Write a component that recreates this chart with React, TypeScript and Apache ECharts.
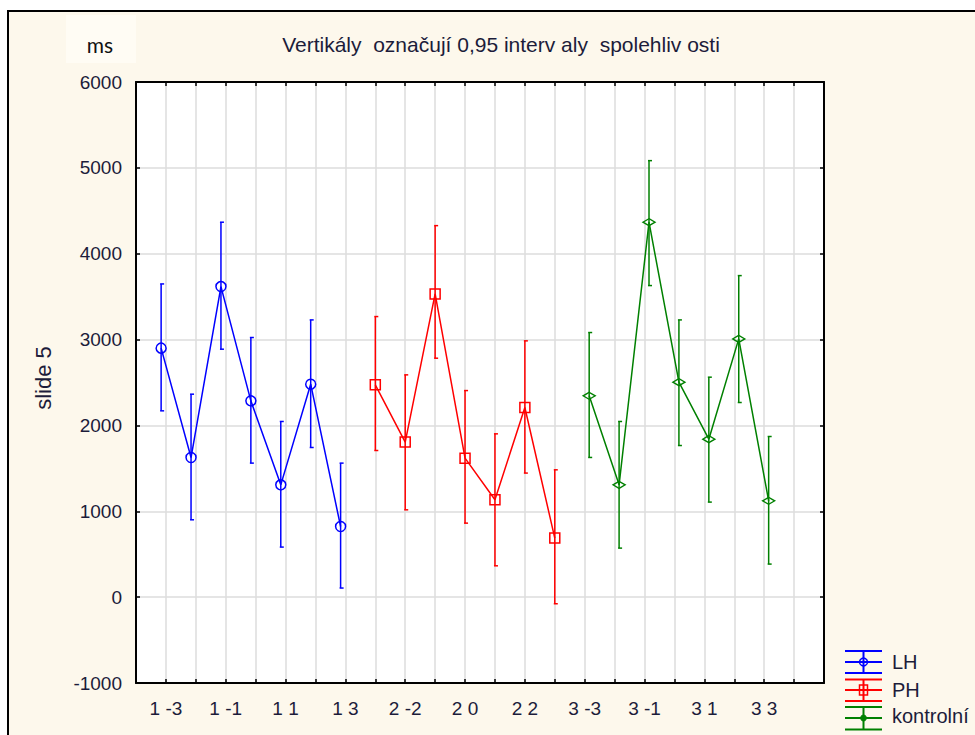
import React, { useEffect, useRef } from "react";
import * as echarts from "echarts";

// Category labels along the x axis (group + level), positions 1..21
const categories = [
  "1 -3", "1 -2", "1 -1", "1 0", "1 1", "1 2", "1 3",
  "2 -3", "2 -2", "2 -1", "2 0", "2 1", "2 2", "2 3",
  "3 -3", "3 -2", "3 -1", "3 0", "3 1", "3 2", "3 3",
];

// Means and 0.95 confidence limits (ms)
const lhMean = [2900, 1626, 3617, 2286, 1308, 2480, 823];
const lhLow = [2170, 901, 2888, 1561, 583, 1743, 106];
const lhHigh = [3648, 2364, 4367, 3024, 2046, 3229, 1561];

const phMean = [2473, 1806, 3532, 1619, 1134, 2209, 688];
const phLow = [1708, 1017, 2783, 862, 365, 1445, -77];
const phHigh = [3268, 2589, 4327, 2406, 1902, 2985, 1483];

const kMean = [2345, 1308, 4367, 2504, 1840, 3008, 1122];
const kLow = [1627, 571, 3629, 1766, 1107, 2267, 385];
const kHigh = [3082, 2046, 5084, 3229, 2562, 3745, 1871];

const yTicks = [-1000, 0, 1000, 2000, 3000, 4000, 5000, 6000];

const BLUE = "#0000ff";
const RED = "#ff0000";
const GREEN = "#008000";
const TEXT = "#1c1c3a";
const FONT = "'Liberation Sans', Arial, sans-serif";

type Group = {
  name: string;
  start: number; // index of first category
  shift: number; // horizontal offset of the series in axis units
  mean: number[];
  low: number[];
  high: number[];
  color: string;
  symbol: string;
  symbolSize: number | number[];
};

const groups: Group[] = [
  { name: "LH", start: 0, shift: -0.16, mean: lhMean, low: lhLow, high: lhHigh, color: BLUE, symbol: "circle", symbolSize: 10 },
  { name: "PH", start: 7, shift: 0, mean: phMean, low: phLow, high: phHigh, color: RED, symbol: "rect", symbolSize: 10 },
  { name: "kontrolní", start: 14, shift: 0.15, mean: kMean, low: kLow, high: kHigh, color: GREEN, symbol: "diamond", symbolSize: [12, 7] },
];

function buildSeries() {
  const series: any[] = [];
  groups.forEach((g) => {
    const xs = g.mean.map((_, i) => g.start + i + 1 + g.shift);
    series.push({
      type: "custom",
      name: g.name + " CI",
      z: 2,
      silent: true,
      encode: { x: 0, y: [1, 2] },
      data: xs.map((x, i) => [x, g.low[i], g.high[i]]),
      renderItem: (_params: any, api: any) => {
        const x = api.value(0);
        const top = api.coord([x, api.value(2)]);
        const bot = api.coord([x, api.value(1)]);
        const st = { stroke: g.color, lineWidth: 1.5 };
        return {
          type: "group",
          children: [
            { type: "line", shape: { x1: top[0], y1: top[1], x2: bot[0], y2: bot[1] }, style: st },
            { type: "line", shape: { x1: top[0] - 1, y1: top[1], x2: top[0] + 3, y2: top[1] }, style: st },
            { type: "line", shape: { x1: bot[0] - 1, y1: bot[1], x2: bot[0] + 3, y2: bot[1] }, style: st },
          ],
        };
      },
    });
    series.push({
      type: "line",
      name: g.name,
      z: 3,
      data: xs.map((x, i) => [x, g.mean[i]]),
      symbol: g.symbol,
      symbolSize: g.symbolSize,
      showAllSymbol: true,
      lineStyle: { color: g.color, width: 1.5 },
      itemStyle: { color: "rgba(0,0,0,0)", borderColor: g.color, borderWidth: 1.5 },
    });
  });
  return series;
}

function legendGraphics() {
  const items: any[] = [];
  const rows = [
    { y: 662, top: 651, bot: 673 },
    { y: 690, top: 679.5, bot: 701 },
    { y: 718, top: 707, bot: 729.5 },
  ];
  const textY = [662, 690, 716];
  groups.forEach((g, i) => {
    const r = rows[i];
    const st = { stroke: g.color, lineWidth: 2 };
    items.push({ type: "line", shape: { x1: 845, y1: r.top, x2: 882, y2: r.top }, style: st });
    items.push({ type: "line", shape: { x1: 845, y1: r.y, x2: 882, y2: r.y }, style: st });
    items.push({ type: "line", shape: { x1: 845, y1: r.bot, x2: 882, y2: r.bot }, style: st });
    items.push({ type: "line", shape: { x1: 863.5, y1: r.top, x2: 863.5, y2: r.bot }, style: st });
    if (i === 0) {
      items.push({ type: "circle", shape: { cx: 863.5, cy: r.y, r: 4 }, style: { fill: "none", stroke: g.color, lineWidth: 1.5 } });
    } else if (i === 1) {
      items.push({ type: "rect", shape: { x: 859.5, y: r.y - 5, width: 8, height: 10 }, style: { fill: "none", stroke: g.color, lineWidth: 1.5 } });
    } else {
      items.push({ type: "circle", shape: { cx: 863.5, cy: r.y, r: 3 }, style: { fill: g.color, stroke: g.color, lineWidth: 1 } });
    }
    items.push({
      type: "text",
      x: 892,
      y: textY[i],
      style: { text: g.name, fill: TEXT, font: `20px ${FONT}`, align: "left", verticalAlign: "middle" },
    });
  });
  return items;
}

export default function App() {
  const ref = useRef<HTMLDivElement>(null);

  useEffect(() => {
    if (!ref.current) return;
    const chart = echarts.init(ref.current, null, { renderer: "svg" });

    const axisLine = { show: true, onZero: false, lineStyle: { color: "#000", width: 2 } };
    const tick = { show: true, inside: true, length: 4, lineStyle: { color: "#000", width: 1.5 } };
    const grid = { show: false, lineStyle: { color: "#dcdcdc", width: 1.5 } };

    chart.setOption({
      animation: false,
      backgroundColor: "#ffffff",
      grid: {
        left: 136,
        top: 82,
        width: 688,
        height: 601,
        show: true,
        backgroundColor: "#ffffff",
        borderWidth: 0,
        containLabel: false,
        outerBoundsMode: "none",
      },
      graphic: [
        {
          type: "rect",
          z: -10,
          silent: true,
          shape: { x: 8, y: 11, width: 980, height: 740 },
          style: { fill: "#fdf8ec", stroke: "#000", lineWidth: 2 },
        },
        {
          type: "rect",
          z: -9,
          silent: true,
          shape: { x: 66, y: 15, width: 70, height: 48 },
          style: { fill: "#fffcf4" },
        },
        {
          type: "text",
          x: 100,
          y: 44,
          style: { text: "ms", fill: "#111", font: "21px Lato, 'Open Sans', sans-serif", align: "center", verticalAlign: "middle" },
        },
        {
          type: "text",
          x: 501,
          y: 44,
          style: {
            text: "Vertikály  označují 0,95 interv aly  spolehliv osti",
            fill: TEXT,
            font: `21px ${FONT}`,
            align: "center",
            verticalAlign: "middle",
          },
        },
        {
          type: "text",
          x: 43,
          y: 378,
          rotation: Math.PI / 2,
          style: { text: "slide 5", fill: TEXT, font: `22px ${FONT}`, align: "center", verticalAlign: "middle" },
        },
        ...legendGraphics(),
      ],
      xAxis: [
        {
          type: "value",
          position: "bottom",
          min: 0,
          max: 23,
          interval: 1,
          axisLine,
          axisTick: tick,
          splitLine: { ...grid, show: true },
          axisLabel: {
            margin: 16,
            color: TEXT,
            fontSize: 19,
            fontFamily: FONT,
            showMinLabel: true,
            showMaxLabel: true,
            formatter: (v: number) => {
              const idx = Math.round(v) - 1;
              if (idx < 0 || idx >= categories.length || idx % 2 !== 0) return "";
              return categories[idx];
            },
          },
        },
        {
          type: "value",
          position: "top",
          min: 0,
          max: 23,
          interval: 1,
          axisLine,
          axisTick: tick,
          splitLine: grid,
          axisLabel: { show: false },
        },
      ],
      yAxis: [
        {
          type: "value",
          position: "left",
          min: yTicks[0],
          max: yTicks[yTicks.length - 1],
          interval: 1000,
          axisLine,
          axisTick: tick,
          splitLine: { ...grid, show: true },
          axisLabel: {
            margin: 14,
            color: TEXT,
            fontSize: 19,
            fontFamily: FONT,
            formatter: (v: number) => String(v),
          },
        },
        {
          type: "value",
          position: "right",
          min: yTicks[0],
          max: yTicks[yTicks.length - 1],
          interval: 1000,
          axisLine,
          axisTick: tick,
          splitLine: grid,
          axisLabel: { show: false },
        },
      ],
      series: buildSeries(),
    });

    return () => chart.dispose();
  }, []);

  return (
    <div
      ref={ref}
      style={{ position: "fixed", left: 0, top: 0, width: 975, height: 735 }}
    />
  );
}
